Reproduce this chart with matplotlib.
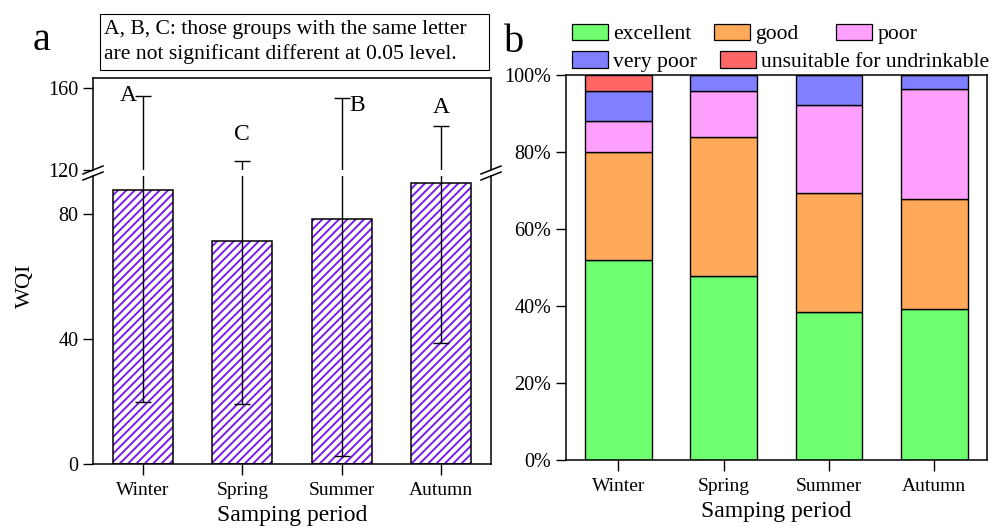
import numpy as np
import matplotlib
matplotlib.use('Agg')
import matplotlib.pyplot as plt
from matplotlib.lines import Line2D
from matplotlib.patches import Patch, Rectangle
from matplotlib.ticker import FuncFormatter

plt.rcParams['font.family'] = ['Liberation Serif', 'DejaVu Serif']
plt.rcParams['hatch.linewidth'] = 1.4

# ─── data ───
seasons = ['Winter', 'Spring', 'Summer', 'Autumn']
wqi_mean = [87.7, 71.4, 78.5, 89.8]
wqi_low = [19.9, 19.2, 2.6, 38.6]
wqi_high = [156.2, 124.5, 155.3, 141.6]
sig_letters = ['A', 'C', 'B', 'A']

classes = ['excellent', 'good', 'poor', 'very poor', 'unsuitable for undrinkable']
pct_excellent = [52.0, 48.0, 38.5, 39.3]
pct_good = [28.0, 36.0, 30.8, 28.6]
pct_poor = [8.0, 12.0, 23.1, 28.6]
pct_very_poor = [8.0, 4.0, 7.7, 3.5]
pct_unsuitable = [4.0, 0.0, 0.0, 0.0]

class_colors = ['#70ff70', '#ffaa5a', '#ffa0ff', '#8080ff', '#ff6666']
hatch_col = '#7a1cf0'

W, H = 1005, 531
fig = plt.figure(figsize=(W / 100, H / 100), dpi=100)

def fx(px): return px / W
def fy(py): return 1 - py / H

# ─── panel a: broken axis ───
x = np.arange(len(seasons))
mean = np.array(wqi_mean)
yerr = [mean - np.array(wqi_low), np.array(wqi_high) - mean]

ax_lo = fig.add_axes([fx(93), fy(464), fx(491) - fx(93), fy(176) - fy(464)])
ax_hi = fig.add_axes([fx(93), fy(170), fx(491) - fx(93), fy(78) - fy(170)])

for ax in (ax_lo, ax_hi):
    ax.bar(x, mean, width=0.6, color='white', edgecolor=hatch_col, hatch='////', linewidth=0, zorder=1)
    ax.bar(x, mean, width=0.6, fill=False, edgecolor='black', linewidth=1.1, zorder=2)
    ax.errorbar(x, mean, yerr=yerr, fmt='none', ecolor='black', elinewidth=1.0,
                capsize=6, capthick=1.0, zorder=3)
    ax.set_xlim(-0.5, 3.5)
    for s in ax.spines.values():
        s.set_linewidth(1.1)
    ax.tick_params(axis='both', direction='out', length=7, width=1.0, labelsize=14.5)

ax_lo.set_ylim(0, (464 - 176) / 3.125)
ax_lo.set_yticks([0, 40, 80])
ax_lo.spines['top'].set_visible(False)
ax_lo.set_xticks(x)
ax_lo.set_xticklabels(seasons)
ax_lo.tick_params(axis='x', length=8, pad=5, labelsize=14)
ax_lo.set_xlabel('Samping period', fontsize=17, labelpad=4)

ax_hi.set_ylim(120, 165)
ax_hi.set_yticks([120, 160])
ax_hi.spines['bottom'].set_visible(False)
ax_hi.set_xticks([])

# significance letters
letter_pos = [(-0.15, 156.2), (1.0, 137.2), (2.16, 151.4), (3.0, 150.4)]
for lt, (lx, ly) in zip(sig_letters, letter_pos):
    ax_hi.text(lx, ly, lt, fontsize=17, ha='center', va='center')

# break marks
for xs in (93, 491):
    for ys in (170, 176):
        fig.add_artist(Line2D([fx(xs - 10), fx(xs + 10)], [fy(ys + 4), fy(ys - 4)],
                              color='black', lw=1.1))

fig.text(fx(25), fy(286), 'WQI', fontsize=16, rotation=90, ha='center', va='center')
fig.text(fx(42), fy(40), 'a', fontsize=29, ha='center', va='center')
fig.add_artist(Rectangle((fx(100), fy(70)), fx(489) - fx(100), fy(14) - fy(70),
                         fill=False, edgecolor='black', lw=0.8, transform=fig.transFigure))
fig.text(fx(104), fy(42), 'A, B, C: those groups with the same letter\n'
         'are not significant different at 0.05 level.',
         fontsize=15.6, ha='left', va='center', linespacing=1.3)

# ─── panel b: stacked percentages ───
axb = fig.add_axes([fx(565.7), fy(460.3), fx(987) - fx(565.7), fy(75.3) - fy(460.3)])
series = [pct_excellent, pct_good, pct_poor, pct_very_poor, pct_unsuitable]
bottom = np.zeros(len(seasons))
for vals, col in zip(series, class_colors):
    vals = np.array(vals)
    axb.bar(x, vals, bottom=bottom, width=0.633, color=col, edgecolor='black', linewidth=1.0)
    bottom += vals
axb.set_xlim(-0.5, 3.5)
axb.set_ylim(0, 100)
axb.set_yticks(np.arange(0, 101, 20))
axb.yaxis.set_major_formatter(FuncFormatter(lambda v, p: f'{v:.0f}%'))
axb.set_xticks(x)
axb.set_xticklabels(seasons)
for s in axb.spines.values():
    s.set_linewidth(1.1)
axb.tick_params(axis='y', direction='out', length=7, width=1.0, labelsize=14.5)
axb.tick_params(axis='x', direction='out', length=8, width=1.0, labelsize=14, pad=5)
axb.set_xlabel('Samping period', fontsize=17, labelpad=4)

fig.text(fx(514), fy(42), 'b', fontsize=29, ha='center', va='center')

# legend: row 1 (excellent, good | poor), row 2 (very poor, unsuitable)
handles = [Patch(facecolor=c, edgecolor='black', linewidth=0.9) for c in class_colors]
leg_kw = dict(fontsize=15.6, frameon=False, handlelength=1.65, handleheight=0.8,
              handletextpad=0.25, columnspacing=1.05, borderpad=0, borderaxespad=0)
fig.legend(handles[:2], classes[:2], ncol=2, loc='center left',
           bbox_to_anchor=(fx(572), fy(34)), **leg_kw)
fig.legend(handles[2:3], classes[2:3], ncol=1, loc='center left',
           bbox_to_anchor=(fx(836), fy(34)), **leg_kw)
fig.legend(handles[3:], classes[3:], ncol=2, loc='center left',
           bbox_to_anchor=(fx(572), fy(61.5)), **leg_kw)

fig.savefig('out.png', dpi=100)
